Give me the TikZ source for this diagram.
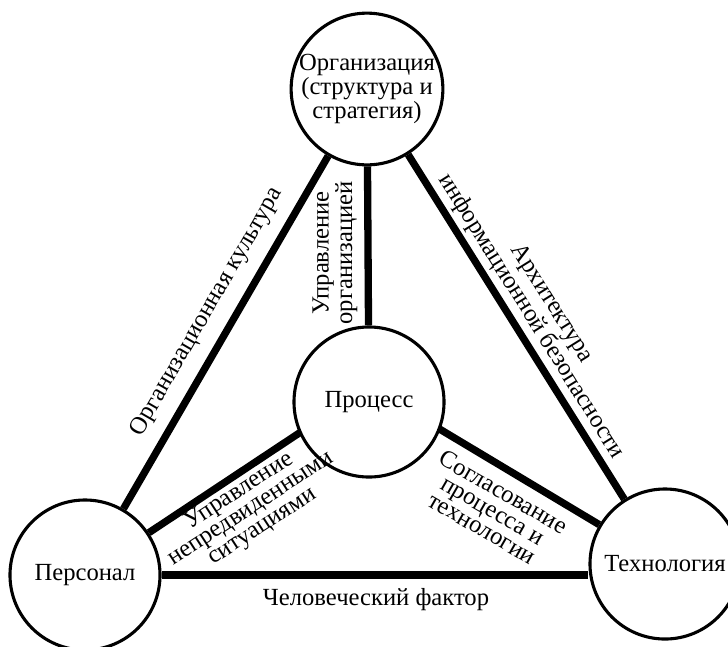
\documentclass[tikz,border=0pt]{standalone}
\usepackage{fontspec}
\setmainfont{Liberation Serif}
\usetikzlibrary{positioning, backgrounds}

\begin{document}
\begin{tikzpicture}[x=0.025cm, y=-0.025cm,
  circ/.style={draw, circle, line width=2.2pt, fill=white, minimum size=3.75cm, inner sep=0pt,
    align=center, font=\fontsize{17.5}{15}\selectfont},
  link/.style={line width=5.2pt},
  lbl/.style={align=center, inner sep=0pt, font=\fontsize{17.5}{15}\selectfont}
]
  \useasboundingbox (0,0) rectangle (728,646);

  \node[circ] (org) at (367,89) {Организация\\(структура и\\стратегия)};
  \node[circ] (proc) at (369,402) {Процесс};
  \node[circ] (pers) at (85,575) {Персонал};
  \node[circ] (tech) at (665,564) {Технология};

  \begin{scope}[on background layer]
    \draw[link] (org) -- (pers);
    \draw[link] (org) -- (tech);
    \draw[link] (org) -- (proc);
    \draw[link] ([yshift=0.38cm]proc.center) -- (pers);
    \draw[link] ([yshift=0.38cm]proc.center) -- (tech);
    \draw[link] (pers.east) -- (pers.east -| tech.west);
  \end{scope}

  % Edge labels
  \node[lbl, rotate=60] (culture) at (207,312) {Организационная культура};
  \node[lbl, rotate=90] (mgmt) at (335,253) {Управление\\организацией};
  \node[lbl, rotate=-58] (arch) at (541,310) {Архитектура\\информационной безопасности};
  \node[lbl, rotate=33] (incid) at (251,509) {Управление\\непредвиденными\\ситуациями};
  \node[lbl, rotate=-30] (match) at (493,510) {Согласование\\процесса и\\технологии};
  \node[lbl] (human) at (376,600) {Человеческий фактор};
\end{tikzpicture}
\end{document}
